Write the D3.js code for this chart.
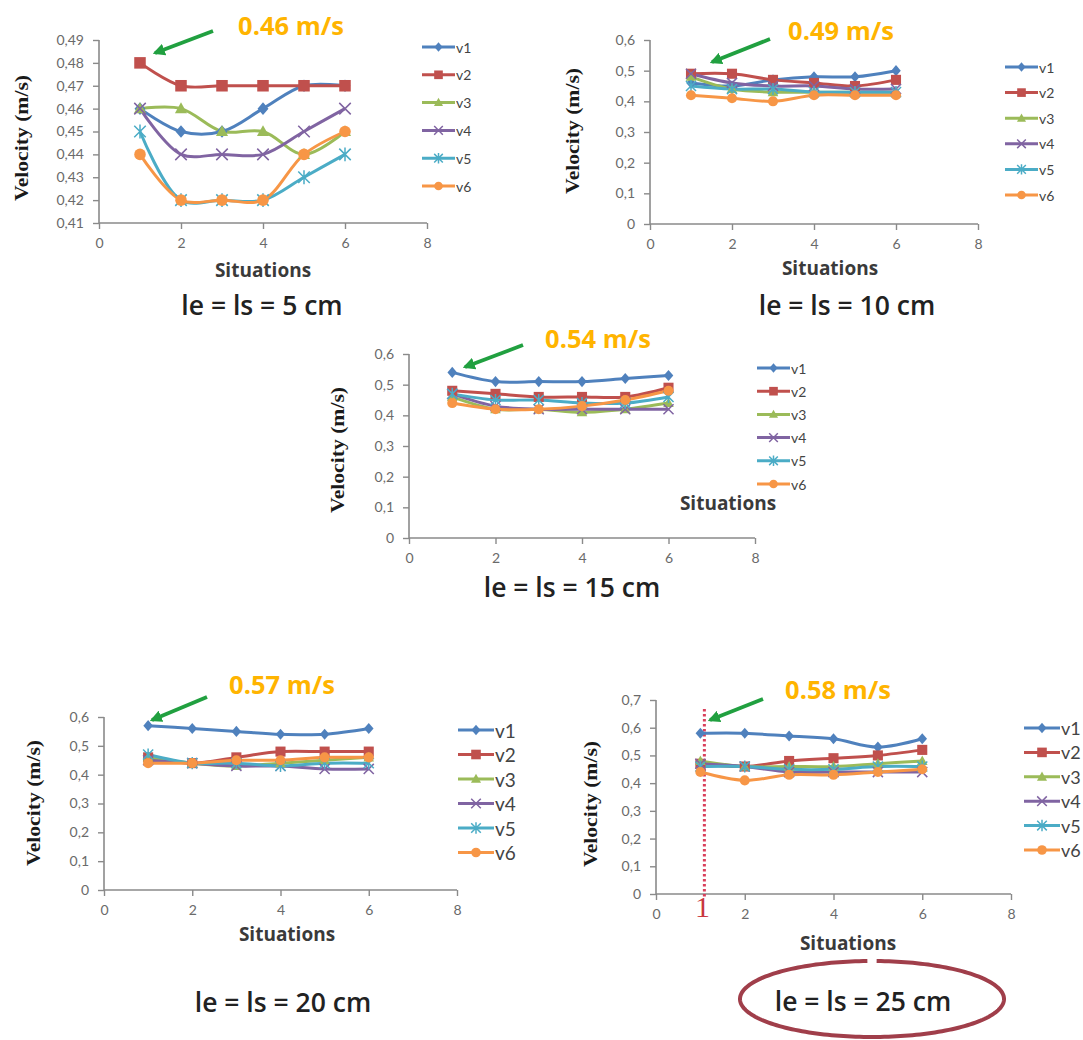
<!DOCTYPE html>
<html><head><meta charset="utf-8">
<script src="https://cdn.jsdelivr.net/npm/d3@7"></script>
<style>body{margin:0;background:#fff}svg{display:block}</style>
</head><body><svg id="c" width="1083" height="1040"></svg>
<script>
// ---------------- DATA ----------------
const situations = [1, 2, 3, 4, 5, 6];
const seriesNames = ["v1", "v2", "v3", "v4", "v5", "v6"];
const seriesColors = ["#4F81BD", "#C0504D", "#9BBB59", "#8064A2", "#4BACC6", "#F79646"];
const xTicks = [0, 2, 4, 6, 8];
const yTicks5cm = [0.41, 0.42, 0.43, 0.44, 0.45, 0.46, 0.47, 0.48, 0.49];
const yTicks06 = [0, 0.1, 0.2, 0.3, 0.4, 0.5, 0.6];
const yTicks07 = [0, 0.1, 0.2, 0.3, 0.4, 0.5, 0.6, 0.7];

const vel5cm = [
  [0.46, 0.45, 0.45, 0.46, 0.47, 0.47],
  [0.48, 0.47, 0.47, 0.47, 0.47, 0.47],
  [0.46, 0.46, 0.45, 0.45, 0.44, 0.45],
  [0.46, 0.44, 0.44, 0.44, 0.45, 0.46],
  [0.45, 0.42, 0.42, 0.42, 0.43, 0.44],
  [0.44, 0.42, 0.42, 0.42, 0.44, 0.45]
];
const vel10cm = [
  [0.46, 0.45, 0.47, 0.48, 0.48, 0.50],
  [0.49, 0.49, 0.47, 0.46, 0.45, 0.47],
  [0.48, 0.44, 0.43, 0.43, 0.43, 0.43],
  [0.49, 0.46, 0.45, 0.45, 0.44, 0.44],
  [0.45, 0.44, 0.44, 0.43, 0.43, 0.43],
  [0.42, 0.41, 0.40, 0.42, 0.42, 0.42]
];
const vel15cm = [
  [0.54, 0.51, 0.51, 0.51, 0.52, 0.53],
  [0.48, 0.47, 0.46, 0.46, 0.46, 0.49],
  [0.46, 0.42, 0.42, 0.41, 0.42, 0.44],
  [0.47, 0.43, 0.42, 0.42, 0.42, 0.42],
  [0.47, 0.45, 0.45, 0.44, 0.44, 0.46],
  [0.44, 0.42, 0.42, 0.43, 0.45, 0.48]
];
const vel20cm = [
  [0.57, 0.56, 0.55, 0.54, 0.54, 0.56],
  [0.46, 0.44, 0.46, 0.48, 0.48, 0.48],
  [0.46, 0.44, 0.43, 0.44, 0.45, 0.46],
  [0.45, 0.44, 0.43, 0.43, 0.42, 0.42],
  [0.47, 0.44, 0.44, 0.43, 0.44, 0.44],
  [0.44, 0.44, 0.45, 0.45, 0.46, 0.46]
];
const vel25cm = [
  [0.58, 0.58, 0.57, 0.56, 0.53, 0.56],
  [0.47, 0.46, 0.48, 0.49, 0.50, 0.52],
  [0.48, 0.46, 0.46, 0.46, 0.47, 0.48],
  [0.47, 0.46, 0.44, 0.44, 0.44, 0.44],
  [0.46, 0.46, 0.45, 0.45, 0.46, 0.46],
  [0.44, 0.41, 0.43, 0.43, 0.44, 0.45]
];
const panelTitles = ["le = ls = 5 cm", "le = ls = 10 cm", "le = ls = 15 cm", "le = ls = 20 cm", "le = ls = 25 cm"];
const peakLabels = ["0.46 m/s", "0.49 m/s", "0.54 m/s", "0.57 m/s", "0.58 m/s"];
const xTitle = "Situations";
const yTitle = "Velocity (m/s)";

// ---------------- LAYOUT ----------------
const panels = [
  {data: vel5cm, ticks: yTicks5cm, yd: [0.41, 0.49], L: 99, R: 427, T: 40, B: 223,
   leg: {x: 422, y: 47, dy: 27.8, fs: 14}, yt: {x: 22, y: 138}, xt: {x: 263, y: 270},
   ti: {x: 262, y: 305}, lab: {x: 291, y: 25}, arr: [213, 31, 155, 53], ms: 1.2},
  {data: vel10cm, ticks: yTicks06, yd: [0, 0.6], L: 650, R: 978, T: 40, B: 224,
   leg: {x: 1005, y: 67, dy: 25.6, fs: 14}, yt: {x: 573, y: 131}, xt: {x: 830, y: 268},
   ti: {x: 847, y: 305}, lab: {x: 841, y: 30}, arr: [770, 39, 712, 62], ms: 1.05},
  {data: vel15cm, ticks: yTicks06, yd: [0, 0.6], L: 409, R: 755, T: 354, B: 538,
   leg: {x: 757, y: 368, dy: 23.2, fs: 14}, yt: {x: 338, y: 450}, xt: {x: 728, y: 503},
   ti: {x: 572, y: 587}, lab: {x: 598, y: 338}, arr: [523, 345, 465, 367], ms: 1.05},
  {data: vel20cm, ticks: yTicks06, yd: [0, 0.6], L: 104, R: 457, T: 717, B: 890,
   leg: {x: 458, y: 730, dy: 24.5, fs: 19}, yt: {x: 34, y: 803}, xt: {x: 287, y: 934},
   ti: {x: 283, y: 1002}, lab: {x: 282, y: 684}, arr: [207, 697, 152, 720], ms: 1.05},
  {data: vel25cm, ticks: yTicks07, yd: [0, 0.7], L: 656, R: 1011, T: 700, B: 894,
   leg: {x: 1024, y: 728, dy: 24.4, fs: 18}, yt: {x: 591, y: 804}, xt: {x: 848, y: 943},
   ti: {x: 863, y: 1001}, lab: {x: 838, y: 689}, arr: [763, 699, 710, 720], ms: 1.05}
];

const svg = d3.select("#c");
const defs = svg.append("defs");
defs.append("marker").attr("id", "ah").attr("viewBox", "0 0 10 10").attr("refX", 8).attr("refY", 5)
  .attr("markerWidth", 3.2).attr("markerHeight", 3.2).attr("orient", "auto")
  .append("path").attr("d", "M0,0 L10,5 L0,10 Z").attr("fill", "#21A040");

const fmt = v => v === 0 ? "0" : String(v).replace(".", ",");

function drawMarker(g, i, cx, cy, k) {
  const c = seriesColors[i];
  const s = 4.8 * k;
  if (i === 0) {
    g.append("path").attr("d", `M${cx},${cy - s * 1.1}L${cx + s * 0.95},${cy}L${cx},${cy + s * 1.1}L${cx - s * 0.95},${cy}Z`).attr("fill", c);
  } else if (i === 1) {
    g.append("rect").attr("x", cx - s).attr("y", cy - s).attr("width", 2 * s).attr("height", 2 * s).attr("fill", c);
  } else if (i === 2) {
    g.append("path").attr("d", `M${cx},${cy - s * 1.1}L${cx + s * 1.05},${cy + s * 0.8}L${cx - s * 1.05},${cy + s * 0.8}Z`).attr("fill", c);
  } else if (i === 3) {
    g.append("path").attr("d", `M${cx - s},${cy - s}L${cx + s},${cy + s}M${cx - s},${cy + s}L${cx + s},${cy - s}`)
      .attr("stroke", c).attr("stroke-width", 1.5).attr("fill", "none");
  } else if (i === 4) {
    g.append("path").attr("d", `M${cx - s},${cy - s}L${cx + s},${cy + s}M${cx - s},${cy + s}L${cx + s},${cy - s}M${cx},${cy - s * 1.2}L${cx},${cy + s * 1.2}`)
      .attr("stroke", c).attr("stroke-width", 1.5).attr("fill", "none");
  } else {
    g.append("circle").attr("cx", cx).attr("cy", cy).attr("r", s).attr("fill", c);
  }
}

panels.forEach((p, pi) => {
  const g = svg.append("g");
  const x = d3.scaleLinear().domain([0, 8]).range([p.L, p.R]);
  const y = d3.scaleLinear().domain(p.yd).range([p.B, p.T]);

  // axes
  const ya = g.append("g").attr("transform", `translate(${p.L},0)`)
    .call(d3.axisLeft(y).tickValues(p.ticks).tickFormat(fmt).tickSize(6).tickPadding(9));
  const xa = g.append("g").attr("transform", `translate(0,${p.B})`)
    .call(d3.axisBottom(x).tickValues(xTicks).tickFormat(d3.format("d")).tickSize(6).tickPadding(9));
  [ya, xa].forEach(a => {
    a.select(".domain").attr("stroke", "#8a8a8a").attr("stroke-width", 1.6);
    a.selectAll(".tick line").attr("stroke", "#8a8a8a").attr("stroke-width", 1.4);
    a.selectAll("text").attr("fill", "#6a6a6a").attr("font-family", "Lato, 'Open Sans', sans-serif").attr("font-size", 14);
  });
  ya.select(".domain").attr("d", `M-0,${p.B}V${p.T}`);
  xa.select(".domain").attr("d", `M${p.L},0H${p.R}`);

  // red dotted marker (25 cm panel)
  if (pi === 4) {
    g.append("line").attr("x1", x(1) + 4).attr("x2", x(1) + 4).attr("y1", p.T + 9).attr("y2", p.B + 4)
      .attr("stroke", "#D9405C").attr("stroke-width", 3).attr("stroke-dasharray", "2.5,2.5");
  }

  // lines
  const line = d3.line().x((d, j) => x(situations[j])).y(d => y(d)).curve(d3.curveCatmullRom.alpha(0.5));
  p.data.forEach((vals, i) => {
    g.append("path").attr("d", line(vals)).attr("fill", "none").attr("stroke", seriesColors[i]).attr("stroke-width", 3);
  });
  p.data.forEach((vals, i) => {
    vals.forEach((v, j) => drawMarker(g, i, x(situations[j]), y(v), p.ms));
  });

  if (pi === 4) {
    g.append("text").attr("x", x(1) + 2).attr("y", p.B + 23).attr("text-anchor", "middle")
      .attr("font-family", "'Liberation Serif', serif").attr("font-size", 30).attr("fill", "#C8373F").text("1");
  }

  // legend
  seriesNames.forEach((n, i) => {
    const ly = p.leg.y + i * p.leg.dy;
    const lw = p.leg.fs > 15 ? 36 : 33;
    g.append("line").attr("x1", p.leg.x).attr("x2", p.leg.x + lw).attr("y1", ly).attr("y2", ly)
      .attr("stroke", seriesColors[i]).attr("stroke-width", 3);
    drawMarker(g, i, p.leg.x + lw / 2, ly, p.leg.fs > 15 ? 1.0 : 0.9);
    g.append("text").attr("x", p.leg.x + lw + 1).attr("y", ly).attr("dominant-baseline", "central")
      .attr("font-family", "Lato, 'Open Sans', sans-serif").attr("font-size", p.leg.fs).attr("fill", "#444").text(n);
  });

  // y title
  g.append("text").attr("transform", `translate(${p.yt.x},${p.yt.y}) rotate(-90)`).attr("text-anchor", "middle")
    .attr("dominant-baseline", "central").attr("font-family", "'Liberation Serif', serif").attr("font-weight", "bold")
    .attr("font-size", 18).attr("fill", "#1a1a1a").attr("textLength", 126).attr("lengthAdjust", "spacingAndGlyphs").text(yTitle);

  // x title
  g.append("text").attr("x", p.xt.x).attr("y", p.xt.y).attr("text-anchor", "middle").attr("dominant-baseline", "central")
    .attr("font-family", "'Open Sans', sans-serif").attr("font-weight", "bold").attr("font-size", 19).attr("fill", "#3a3a3a").text(xTitle);

  // panel title
  g.append("text").attr("x", p.ti.x).attr("y", p.ti.y).attr("text-anchor", "middle").attr("dominant-baseline", "central")
    .attr("font-family", "'Open Sans', sans-serif").attr("font-weight", 600).attr("font-size", 26.5).attr("fill", "#222").text(panelTitles[pi]);

  // peak label + arrow
  g.append("text").attr("x", p.lab.x).attr("y", p.lab.y).attr("text-anchor", "middle").attr("dominant-baseline", "central")
    .attr("font-family", "'Open Sans', sans-serif").attr("font-weight", "bold").attr("font-size", 25.5).attr("fill", "#FFB400").text(peakLabels[pi]);
  g.append("line").attr("x1", p.arr[0]).attr("y1", p.arr[1]).attr("x2", p.arr[2]).attr("y2", p.arr[3])
    .attr("stroke", "#21A040").attr("stroke-width", 3.8).attr("marker-end", "url(#ah)");

  if (pi === 4) {
    const cx = 872, cy = 999, rx = 132, ry = 38;
    const gap = 0.035;
    const a0 = -Math.PI / 2 + gap, a1 = -Math.PI / 2 - gap + 2 * Math.PI;
    const pts = d3.range(0, 201).map(k => {
      const a = a0 + (a1 - a0) * k / 200;
      return [cx + rx * Math.cos(a), cy + ry * Math.sin(a)];
    });
    g.append("path").attr("d", d3.line()(pts)).attr("fill", "none").attr("stroke", "#A03E4A").attr("stroke-width", 4);
  }
});
</script></body></html>
